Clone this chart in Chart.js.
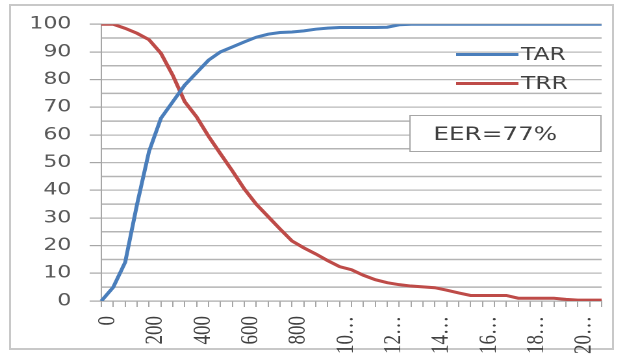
<!DOCTYPE html>
<html>
<head>
<meta charset="utf-8">
<script src="https://cdn.jsdelivr.net/npm/chart.js@4.4.1/dist/chart.umd.min.js"></script>
<style>
  body { margin: 0; background: #fff; }
  #frame { position: absolute; left: 9px; top: 4px; width: 601px; height: 342px; border: 2px solid #c8c8c8; }
  #chart { position: absolute; left: 0; top: 0; }
</style>
</head>
<body>
<div id="frame"></div>
<!-- the reference picture is stretched sideways, so the canvas is too (inline size so chart.js keeps it) -->
<canvas id="chart" width="481" height="354" style="width:625px;height:354px"></canvas>
<script>
const categories = [0, 50, 100, 150, 200, 250, 300, 350, 400, 450, 500, 550, 600, 650, 700, 750,
  800, 850, 900, 950, 1000, 1050, 1100, 1150, 1200, 1250, 1300, 1350, 1400, 1450, 1500,
  1550, 1600, 1650, 1700, 1750, 1800, 1850, 1900, 1950, 2000, 2050, 2100];
const tickLabels = ['0', '200', '400', '600', '800', '10…', '12…', '14…', '16…', '18…', '20…'];
const yTicks = [0, 10, 20, 30, 40, 50, 60, 70, 80, 90, 100];
const yMinor = [5, 15, 25, 35, 45, 55, 65, 75, 85, 95];
const tar = [0, 5, 14, 35, 54, 66, 72, 78, 82.5, 87, 90, 91.8, 93.6, 95.3, 96.4, 97,
  97.2, 97.6, 98.2, 98.6, 98.8, 98.8, 98.8, 98.8, 98.9, 99.8, 100, 100, 100, 100, 100,
  100, 100, 100, 100, 100, 100, 100, 100, 100, 100, 100, 100];
const trr = [100, 100, 98.5, 96.7, 94.4, 89.5, 81.5, 72, 66.5, 59.5, 53.2, 47, 40.5, 35,
  30.5, 26, 21.7, 19.2, 17, 14.6, 12.4, 11.3, 9.3, 7.7, 6.6, 5.9, 5.4, 5.1, 4.8, 3.9,
  2.9, 2, 2, 2, 2, 1, 1, 1, 1, 0.6, 0.3, 0.3, 0.3];
const eerText = 'EER=77%';

// minor gridlines (every 5), drawn from the y scale
const minorGrid = {
  id: 'minorGrid',
  afterDraw(chart) {
    const { ctx, chartArea, scales } = chart;
    ctx.save();
    ctx.globalCompositeOperation = 'destination-over';
    ctx.strokeStyle = '#b4b4b4';
    ctx.lineWidth = 1.5;
    yMinor.forEach(v => {
      const y = scales.y.getPixelForValue(v);
      ctx.beginPath();
      ctx.moveTo(chartArea.left, y);
      ctx.lineTo(chartArea.right, y);
      ctx.stroke();
    });
    ctx.restore();
  }
};

// legend + EER box, drawn over the plot like in the excel picture
const overlay = {
  id: 'overlay',
  afterDraw(chart) {
    const ctx = chart.ctx;
    ctx.save();
    chart.data.datasets.forEach((ds, i) => {
      const y = 54.5 + i * 29;
      ctx.strokeStyle = ds.borderColor;
      ctx.lineWidth = 3;
      ctx.beginPath();
      ctx.moveTo(351, y);
      ctx.lineTo(399, y);
      ctx.stroke();
      ctx.fillStyle = '#404040';
      ctx.font = '18px "DejaVu Sans"';
      ctx.textAlign = 'left';
      ctx.textBaseline = 'middle';
      ctx.fillText(ds.label, 401, y + 1);
    });
    ctx.fillStyle = '#fff';
    ctx.fillRect(315.5, 115.5, 147, 36);
    ctx.strokeStyle = '#a6a6a6';
    ctx.lineWidth = 1;
    ctx.strokeRect(315.5, 115.5, 147, 36);
    ctx.fillStyle = '#404040';
    ctx.font = '19px "DejaVu Sans"';
    ctx.textAlign = 'left';
    ctx.textBaseline = 'middle';
    ctx.fillText(eerText, 333.5, 135);
    ctx.restore();
  }
};

new Chart(document.getElementById('chart'), {
  type: 'line',
  data: {
    labels: categories,
    datasets: [
      { label: 'TAR', data: tar, borderColor: '#4a7ebb', borderWidth: 3, pointRadius: 0, tension: 0 },
      { label: 'TRR', data: trr, borderColor: '#be4b48', borderWidth: 3, pointRadius: 0, tension: 0 }
    ]
  },
  options: {
    responsive: false,
    animation: false,
    devicePixelRatio: 2,
    layout: { padding: { left: 8, right: 18, top: 24, bottom: 0 } },
    plugins: { legend: { display: false }, tooltip: { enabled: false } },
    scales: {
      x: {
        offset: false,
        afterFit(scale) {
          scale.height = 53;
          scale.paddingLeft = 0;
          scale.paddingRight = 0;
        },
        border: { color: '#a6a6a6', width: 1 },
        grid: { drawOnChartArea: false, tickLength: 6, tickColor: '#a6a6a6' },
        ticks: {
          autoSkip: false,
          minRotation: 90,
          maxRotation: 90,
          padding: 9,
          labelOffset: 5,
          color: '#404040',
          font: { family: '"Liberation Serif"', size: 19 },
          callback: (v, i) => (i % 4 === 0 ? tickLabels[i / 4] : '')
        }
      },
      y: {
        min: 0,
        max: 100,
        afterFit(scale) { scale.width = 70; },
        afterBuildTicks(scale) { scale.ticks = yTicks.map(v => ({ value: v })); },
        border: { color: '#a6a6a6', width: 1 },
        grid: { color: '#b8b8b8', lineWidth: 1.2, tickColor: '#a6a6a6', tickLength: 9 },
        ticks: {
          autoSkip: false,
          padding: 14,
          color: '#595959',
          font: { family: '"DejaVu Sans"', size: 17 }
        }
      }
    }
  },
  plugins: [minorGrid, overlay]
});
</script>
</body>
</html>
